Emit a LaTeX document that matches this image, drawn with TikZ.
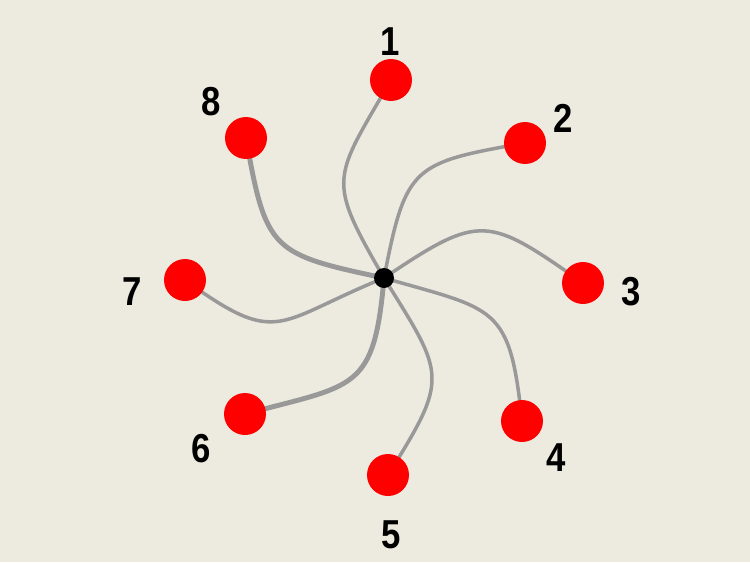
\documentclass[tikz,border=0pt]{standalone}
\usepackage{fontspec}
\setmainfont{Liberation Sans}
\newfontfamily\spkdigits[FakeStretch=0.86]{Liberation Sans}
\definecolor{spkBack}{HTML}{EDEBE0}
\definecolor{spkRed}{HTML}{FF0000}
\definecolor{spkGray}{HTML}{999999}
\pgfdeclarelayer{spkbg}
\pgfdeclarelayer{spkedges}
\pgfsetlayers{spkbg,spkedges,main}
\tikzset{
  spk hub/.style={circle, fill=black, minimum size=0.4cm, inner sep=0pt},
  spk leaf/.style={circle, fill=spkRed, minimum size=0.84cm, inner sep=0pt},
  spk label/.style={font=\spkdigits\bfseries\fontsize{23}{27}\selectfont, text=black, inner sep=0pt},
  spk line/.style={draw=spkGray, line width=2pt, looseness=1.5},
}
\begin{document}
\begin{tikzpicture}[x=0.02cm,y=0.02cm]
\begin{pgfonlayer}{spkbg}\fill[spkBack](-384,-284)rectangle(366,278);\end{pgfonlayer}
\useasboundingbox(-384,-284)rectangle(366,278);
\node[spk hub](hub)at(0,0){};
\foreach \i/\px/\py/\lx/\ly in {1/7/198/6/236,2/141/135/179/160,3/199/-5/247/-14,4/138/-143/172/-180,
  5/4/-197/7/-257,6/-139/-136/-183/-171,7/-199/-2/-252/-14,8/-138/140/-173/176}{
  \node[spk leaf](n\i)at(\px,\py){};\node[spk label](l\i)at(\lx,\ly){\i};}
\begin{pgfonlayer}{spkedges}
\foreach \i/\o/\n/\w in {1/120/240/2pt,2/79/190/2pt,3/34/145/2pt,4/-16/96/2pt,
  5/-58/58/2pt,6/265/15/2.8pt,7/202/324/2pt,8/168/280/2.8pt}{
  \draw[spk line, line width=\w](hub.center)to[out=\o,in=\n](n\i.center);}
\end{pgfonlayer}
\end{tikzpicture}
\end{document}
